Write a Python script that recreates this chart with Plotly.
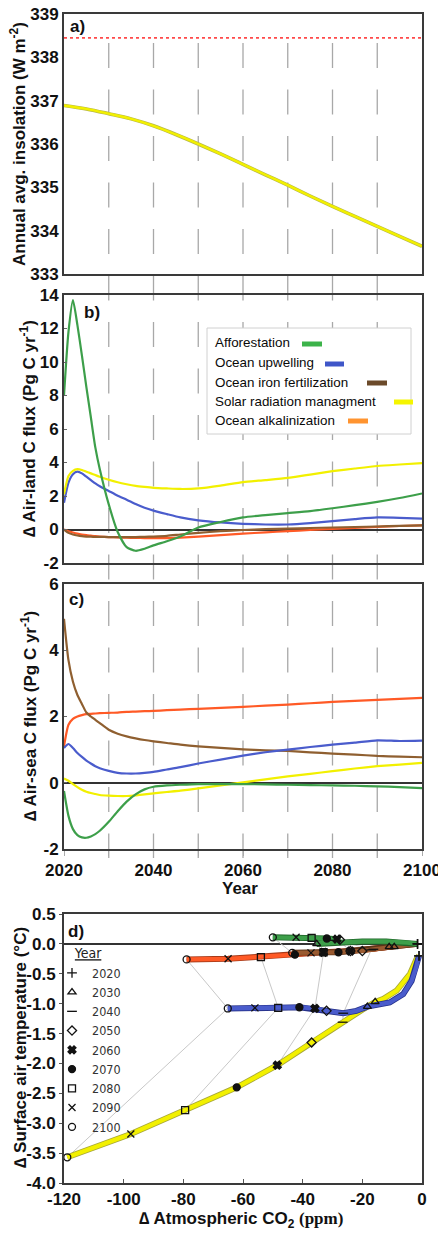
import plotly.graph_objects as go

W, H = 438, 1233
FONT = "Liberation Sans, Arial, Helvetica, sans-serif"

# ---------------- data ----------------
# panel a: annual average insolation (W m-2)
years_a = [2020, 2025, 2030, 2035, 2040, 2045, 2050, 2055, 2060, 2065, 2070, 2075, 2080, 2085, 2090, 2095, 2100]
insolation = [336.89, 336.81, 336.70, 336.58, 336.42, 336.22, 336.00, 335.77, 335.53, 335.29, 335.05, 334.80, 334.56, 334.33, 334.10, 333.87, 333.64]
insolation_ref = 338.45

# panels b/c: common year grid
years_bc = [2020, 2021, 2022, 2023, 2024, 2025, 2026, 2027, 2028, 2030, 2032, 2034, 2036, 2038, 2040,
            2043, 2046, 2050, 2055, 2060, 2065, 2070, 2075, 2080, 2085, 2090, 2095, 2100]

# panel b: air-land C flux (Pg C / yr)
land_afforestation = [8.0, 11.8, 13.7, 12.2, 10.4, 8.5, 6.7, 4.9, 3.6, 1.5, -0.15, -1.05, -1.27, -1.15, -0.95,
                      -0.7, -0.42, 0.12, 0.45, 0.72, 0.86, 0.98, 1.1, 1.27, 1.45, 1.65, 1.88, 2.15]
land_upwelling = [1.6, 2.8, 3.3, 3.45, 3.35, 3.15, 2.95, 2.75, 2.58, 2.3, 2.02, 1.78, 1.52, 1.3, 1.13,
                  0.92, 0.72, 0.55, 0.42, 0.34, 0.3, 0.3, 0.38, 0.5, 0.62, 0.72, 0.7, 0.65]
land_iron = [0.0, -0.2, -0.3, -0.36, -0.4, -0.42, -0.43, -0.44, -0.44, -0.45, -0.45, -0.45, -0.45, -0.44, -0.42,
             -0.38, -0.3, -0.2, -0.1, -0.03, 0.02, 0.05, 0.09, 0.12, 0.15, 0.18, 0.22, 0.25]
land_srm = [2.1, 3.2, 3.5, 3.6, 3.55, 3.45, 3.35, 3.25, 3.15, 2.97, 2.82, 2.7, 2.6, 2.54, 2.49,
            2.45, 2.42, 2.45, 2.62, 2.83, 2.95, 3.08, 3.28, 3.48, 3.64, 3.79, 3.88, 3.96]
land_alkalinization = [0.0, -0.1, -0.18, -0.25, -0.3, -0.34, -0.37, -0.4, -0.42, -0.45, -0.47, -0.49, -0.5, -0.51, -0.52,
                       -0.51, -0.48, -0.42, -0.33, -0.25, -0.17, -0.1, -0.03, 0.04, 0.1, 0.16, 0.21, 0.25]

# panel c: air-sea C flux (Pg C / yr)
sea_afforestation = [-0.25, -1.0, -1.4, -1.58, -1.65, -1.66, -1.62, -1.55, -1.45, -1.18, -0.86, -0.57, -0.35, -0.2, -0.12,
                     -0.08, -0.06, -0.04, -0.04, -0.04, -0.05, -0.06, -0.07, -0.08, -0.09, -0.11, -0.13, -0.16]
sea_upwelling = [1.05, 1.17, 1.05, 0.9, 0.78, 0.67, 0.58, 0.5, 0.44, 0.36, 0.3, 0.28, 0.28, 0.3, 0.33,
                 0.4, 0.47, 0.58, 0.7, 0.82, 0.92, 1.0, 1.08, 1.15, 1.21, 1.28, 1.26, 1.27]
sea_iron = [4.95, 3.7, 3.05, 2.65, 2.38, 2.12, 2.0, 1.9, 1.8, 1.6, 1.48, 1.4, 1.34, 1.29, 1.25,
            1.2, 1.15, 1.1, 1.05, 1.01, 0.98, 0.96, 0.92, 0.88, 0.85, 0.81, 0.79, 0.77]
sea_srm = [0.13, 0.06, -0.04, -0.13, -0.21, -0.27, -0.31, -0.34, -0.37, -0.39, -0.4, -0.4, -0.38, -0.35, -0.32,
           -0.28, -0.24, -0.17, -0.08, 0.01, 0.1, 0.19, 0.27, 0.35, 0.43, 0.5, 0.55, 0.6]
sea_alkalinization = [1.1, 1.75, 1.93, 2.0, 2.04, 2.07, 2.08, 2.09, 2.1, 2.11, 2.12, 2.14, 2.15, 2.16, 2.17,
                      2.19, 2.21, 2.23, 2.26, 2.29, 2.33, 2.36, 2.4, 2.44, 2.47, 2.5, 2.53, 2.56]

# panel d: trajectories (delta CO2 ppm, delta SAT degC)
d_afforestation_co2 = [-1.5, -5, -12, -20, -28, -35.3, -29.7, -27.5, -28.5, -31.9, -37, -42.2, -50]
d_afforestation_dt = [0.0, 0.02, 0.04, 0.04, 0.02, 0.0, 0.06, 0.07, 0.08, 0.09, 0.1, 0.11, 0.11]
d_upwelling_co2 = [-1, -2, -3.5, -6.3, -10.8, -18.3, -22, -26.4, -32, -35.9, -41.1, -48.2, -56, -65.1]
d_upwelling_dt = [-0.2, -0.4, -0.62, -0.84, -0.98, -1.05, -1.12, -1.16, -1.12, -1.08, -1.06, -1.07, -1.07, -1.08]
d_iron_co2 = [-1.5, -11, -16.3, -20, -24, -28, -33, -37.2, -43.5]
d_iron_dt = [0.0, -0.05, -0.09, -0.12, -0.12, -0.14, -0.14, -0.15, -0.15]
d_srm_co2 = [-1, -1.8, -4, -8.5, -12.9, -15.7, -20, -26.6, -37, -48.5, -62.1, -79.4, -97.6, -118.9]
d_srm_dt = [-0.2, -0.25, -0.5, -0.78, -0.92, -0.97, -1.1, -1.31, -1.65, -2.03, -2.4, -2.78, -3.18, -3.57]
d_alkalinization_co2 = [-1.5, -9.3, -17, -24, -33, -42.6, -54, -65, -78.9]
d_alkalinization_dt = [0.0, -0.05, -0.1, -0.12, -0.14, -0.18, -0.22, -0.25, -0.26]

# decadal markers (2020..2100)
marker_years = [2020, 2030, 2040, 2050, 2060, 2070, 2080, 2090, 2100]
m_afforestation_co2 = [-1.5, -35.3, -29.7, -27.5, -28.5, -31.9, -37, -42.2, -50]
m_afforestation_dt = [0.0, 0.0, 0.06, 0.07, 0.08, 0.09, 0.1, 0.11, 0.11]
m_upwelling_co2 = [-1, -18.3, -26.4, -32, -35.9, -41.1, -48.2, -56, -65.1]
m_upwelling_dt = [-0.2, -1.05, -1.16, -1.12, -1.08, -1.06, -1.07, -1.07, -1.08]
m_iron_co2 = [-1.5, -11, -16.3, -20, -24, -28, -33, -37.2, -43.5]
m_iron_dt = [0.0, -0.05, -0.09, -0.12, -0.12, -0.14, -0.14, -0.15, -0.15]
m_srm_co2 = [-1, -15.7, -26.6, -37, -48.5, -62.1, -79.4, -97.6, -118.9]
m_srm_dt = [-0.2, -0.97, -1.31, -1.65, -2.03, -2.4, -2.78, -3.18, -3.57]
m_alkalinization_co2 = [-1.5, -9.3, -17, -24, -33, -42.6, -54, -65, -78.9]
m_alkalinization_dt = [0.0, -0.05, -0.1, -0.12, -0.14, -0.18, -0.22, -0.25, -0.26]
isochrone_years = [2040, 2060, 2080, 2100]

scenario_names = ["Afforestation", "Ocean upwelling", "Ocean iron fertilization",
                  "Solar radiation managment", "Ocean alkalinization"]

# ---------------- styles ----------------
C_GREEN = "#3d9f4a"
C_BLUE = "#4a5ccc"
C_BROWN = "#8f5f30"
C_YELLOW = "#f2f000"
C_RED = "#ff5a26"
SW_GREEN = "#3cb34a"
SW_BLUE = "#3f56c8"
SW_BROWN = "#6b4a2a"
SW_YELLOW = "#f5f500"
SW_ORANGE = "#ff9430"
symbols = ["cross-thin-open", "triangle-up-open", "line-ew-open", "diamond-open", "x",
           "circle", "square-open", "x-thin-open", "circle-open"]


def px2p(px):
    return px / W


def py2p(py):
    return 1 - py / H


fig = go.Figure()

# panel a
fig.add_trace(go.Scatter(x=[years_a[0], years_a[-1]], y=[insolation_ref, insolation_ref], mode="lines",
                         line=dict(color="#ff4a4a", width=1.6, dash="dot"), xaxis="x", yaxis="y", showlegend=False))
fig.add_trace(go.Scatter(x=years_a, y=insolation, mode="lines", line=dict(color="#b8b84a", width=3.6, shape="spline"),
                         xaxis="x", yaxis="y", showlegend=False))
fig.add_trace(go.Scatter(x=years_a, y=insolation, mode="lines", line=dict(color=C_YELLOW, width=2.4, shape="spline"),
                         xaxis="x", yaxis="y", showlegend=False))

# panel b
for ys, col in [(land_alkalinization, C_RED), (land_iron, C_BROWN), (land_upwelling, C_BLUE),
                (land_srm, C_YELLOW), (land_afforestation, C_GREEN)]:
    fig.add_trace(go.Scatter(x=years_bc, y=ys, mode="lines", line=dict(color=col, width=2.2, shape="spline", smoothing=0.6),
                             xaxis="x2", yaxis="y2", showlegend=False))

# panel c
for ys, col in [(sea_alkalinization, C_RED), (sea_iron, C_BROWN), (sea_upwelling, C_BLUE),
                (sea_srm, C_YELLOW), (sea_afforestation, C_GREEN)]:
    fig.add_trace(go.Scatter(x=years_bc, y=ys, mode="lines", line=dict(color=col, width=2.2, shape="spline", smoothing=0.6),
                             xaxis="x3", yaxis="y3", showlegend=False))

# panel d isochrones
m_sets = [(m_srm_co2, m_srm_dt), (m_upwelling_co2, m_upwelling_dt), (m_alkalinization_co2, m_alkalinization_dt),
          (m_iron_co2, m_iron_dt), (m_afforestation_co2, m_afforestation_dt)]
for yr in isochrone_years:
    i = marker_years.index(yr)
    fig.add_trace(go.Scatter(x=[s[0][i] for s in m_sets], y=[s[1][i] for s in m_sets], mode="lines",
                             line=dict(color="#c8c8c8", width=1), xaxis="x4", yaxis="y4", showlegend=False,
                             hoverinfo="skip"))

# panel d trajectories
for xs, ys, col, edge in [(d_srm_co2, d_srm_dt, C_YELLOW, "#a8a838"),
                          (d_upwelling_co2, d_upwelling_dt, C_BLUE, "#26318a"),
                          (d_alkalinization_co2, d_alkalinization_dt, C_RED, "#a83a18"),
                          (d_iron_co2, d_iron_dt, "#9a5a30", "#5a3418"),
                          (d_afforestation_co2, d_afforestation_dt, C_GREEN, "#1e6428")]:
    fig.add_trace(go.Scatter(x=xs, y=ys, mode="lines", line=dict(color=edge, width=6),
                             xaxis="x4", yaxis="y4", showlegend=False))
    fig.add_trace(go.Scatter(x=xs, y=ys, mode="lines", line=dict(color=col, width=4.3),
                             xaxis="x4", yaxis="y4", showlegend=False))

# panel d year markers (legend)
for i, yr in enumerate(marker_years):
    fig.add_trace(go.Scatter(x=[s[0][i] for s in m_sets], y=[s[1][i] for s in m_sets], mode="markers",
                             name=str(yr),
                             marker=dict(symbol=symbols[i], size=7, color="#111",
                                         line=dict(color="#111", width=1.3)),
                             xaxis="x4", yaxis="y4", showlegend=True))

# ---------------- axes ----------------
XD = [px2p(64), px2p(422)]
tickfont = dict(family=FONT, size=17, color="#111", weight="bold")
titlefont = dict(family=FONT, size=17, color="#111", weight="bold")
box = dict(showline=True, mirror=True, linecolor="#3a3a3a", linewidth=2, showgrid=False, tickfont=tickfont,
           automargin=False, ticklabeloverflow="allow")
zl = dict(zeroline=True, zerolinecolor="#333", zerolinewidth=1.6)

fig.update_layout(
    width=W, height=H, margin=dict(l=0, r=0, t=0, b=0, autoexpand=False),
    paper_bgcolor="white", plot_bgcolor="rgba(0,0,0,0)",
    font=dict(family=FONT, color="#111"),
    xaxis=dict(**box, zeroline=False, domain=XD, anchor="y", range=[2020, 2100], showticklabels=False, ticks=""),
    yaxis=dict(**box, zeroline=False, domain=[py2p(274), py2p(14)], anchor="x", range=[333, 339], dtick=1, ticks=""),
    xaxis2=dict(**box, zeroline=False, domain=XD, anchor="y2", range=[2020, 2100], showticklabels=False, ticks=""),
    yaxis2=dict(**box, **zl, domain=[py2p(563), py2p(295)], anchor="x2", range=[-2, 14],
                tickvals=[-2, 0, 2, 4, 6, 8, 10, 12, 14], ticktext=["-2", "0", "2", "4", "6", "8", "10", "12", "14"],
                ticks="inside", ticklen=3, tickcolor="#666"),
    xaxis3=dict(**box, zeroline=False, domain=XD, anchor="y3", range=[2020, 2100],
                tickvals=[2020, 2040, 2060, 2080, 2100], ticktext=["2020", "2040", "2060", "2080", "2100"],
                ticks="outside", ticklen=5, tickcolor="#aaa",
                minor=dict(ticks="outside", dtick=10, ticklen=5, tickcolor="#aaa")),
    yaxis3=dict(**box, **zl, domain=[py2p(849), py2p(584)], anchor="x3", range=[-2, 6],
                tickvals=[-2, 0, 2, 4, 6], ticktext=["-2", "0", "2", "4", "6"],
                ticks="inside", ticklen=3, tickcolor="#666"),
    xaxis4=dict(**box, zeroline=False, domain=XD, anchor="y4", range=[-120, 0],
                tickvals=[-120, -100, -80, -60, -40, -20, 0],
                ticktext=["-120", "-100", "-80", "-60", "-40", "-20", "0"],
                ticks="inside", ticklen=4, tickcolor="#555"),
    yaxis4=dict(**box, **zl, domain=[py2p(1183), py2p(914)], anchor="x4", range=[-4, 0.5],
                tickvals=[0.5, 0, -0.5, -1, -1.5, -2, -2.5, -3, -3.5, -4],
                ticktext=["0.5", "0.0", "-0.5", "-1.0", "-1.5", "-2.0", "-2.5", "-3.0", "-3.5", "-4.0"],
                ticks="outside", ticklen=3, tickcolor="#555"),
    legend=dict(x=px2p(52), y=py2p(940), xanchor="left", yanchor="top", bgcolor="rgba(0,0,0,0)",
                font=dict(family="Liberation Sans Narrow, DejaVu Sans Condensed, Liberation Sans, sans-serif",
                          size=12.5, color="#333"),
                title=dict(text="<u>Year</u>", side="top center",
                           font=dict(family="Liberation Sans Narrow, DejaVu Sans Condensed, Liberation Sans, sans-serif",
                                     size=14, color="#222")),
                itemwidth=30, tracegroupgap=0),
)

# vertical dashed decade guides across panels a-c
shapes = []
for yr in [2030, 2040, 2050, 2060, 2070, 2080, 2090]:
    shapes.append(dict(type="line", xref="x3", yref="paper", x0=yr, x1=yr, y0=py2p(43), y1=py2p(858),
                       line=dict(color="#a8a8a8", width=1.3, dash="25px,21.5px"), layer="below"))

# manual legend for panel b
shapes.append(dict(type="rect", xref="paper", yref="paper", x0=px2p(207), x1=px2p(411), y0=py2p(434), y1=py2p(328),
                   line=dict(color="#d0d0d0", width=1), fillcolor="white", layer="above"))
leg_y = [343, 363, 382, 401, 420]
sw_x = [(302, 322), (325, 344), (367, 387), (394, 413), (348, 368)]
sw_col = [SW_GREEN, SW_BLUE, SW_BROWN, SW_YELLOW, SW_ORANGE]
annotations = []
for name, yy, (sx0, sx1), col in zip(scenario_names, leg_y, sw_x, sw_col):
    annotations.append(dict(xref="paper", yref="paper", x=px2p(213), y=py2p(yy), xanchor="left", yanchor="middle",
                            text=name, showarrow=False,
                            font=dict(family=FONT, size=13.4, color="#0a0a0a")))
    shapes.append(dict(type="line", xref="paper", yref="paper", x0=px2p(sx0), x1=px2p(sx1),
                       y0=py2p(yy + 1), y1=py2p(yy + 1), line=dict(color=col, width=5), layer="above"))

# panel labels
for lab, x, y in [("a)", 77, 27), ("b)", 92, 313), ("c)", 76, 599), ("d)", 76, 931)]:
    annotations.append(dict(xref="paper", yref="paper", x=px2p(x), y=py2p(y), xanchor="center", yanchor="middle",
                            text=lab, showarrow=False, font=dict(family=FONT, size=17, color="#111", weight="bold")))

# axis titles
ytitles = [("Annual avg. insolation (W m<sup>-2</sup>)", 18, 144),
           ("∆ Air-land C flux (Pg C yr<sup>-1</sup>)", 28, 429),
           ("∆ Air-sea C flux (Pg C yr<sup>-1</sup>)", 29, 716),
           ("∆ Surface air temperature (°C)", 20, 1048)]
for txt, x, y in ytitles:
    annotations.append(dict(xref="paper", yref="paper", x=px2p(x), y=py2p(y), xanchor="center", yanchor="middle",
                            text=txt, textangle=-90, showarrow=False, font=titlefont))
annotations.append(dict(xref="paper", yref="paper", x=px2p(240), y=py2p(888), xanchor="center", yanchor="middle",
                        text="Year", showarrow=False, font=titlefont))
annotations.append(dict(xref="paper", yref="paper", x=px2p(241), y=py2p(1220), xanchor="center", yanchor="middle",
                        text="∆ Atmospheric CO<sub>2</sub> <span style='font-family:Liberation Serif'>(ppm)</span>",
                        showarrow=False, font=titlefont))

fig.update_layout(shapes=shapes, annotations=annotations)

fig.write_html("out.html", config={"displayModeBar": False},
               post_script="document.body.style.margin='0px';")
